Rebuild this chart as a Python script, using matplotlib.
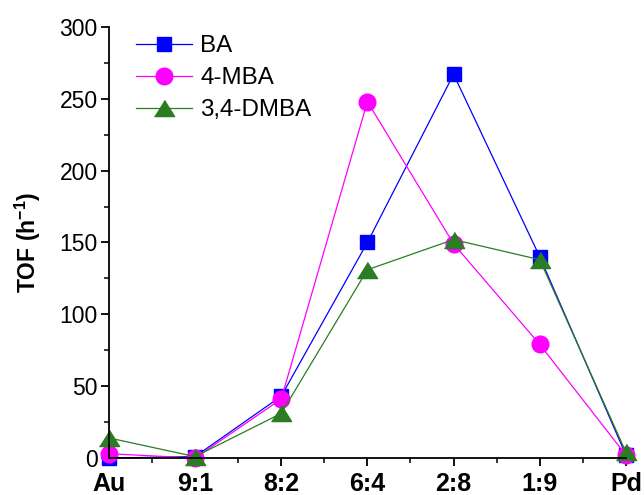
import numpy as np
import matplotlib
matplotlib.use("Agg")
import matplotlib.pyplot as plt
from matplotlib.ticker import MultipleLocator

plt.rcParams['font.family'] = ['Liberation Sans', 'DejaVu Sans']
plt.rcParams['mathtext.fontset'] = 'custom'
plt.rcParams['mathtext.rm'] = 'Liberation Sans'
plt.rcParams['mathtext.bf'] = 'Liberation Sans:bold'

# data
categories = ["Au", "9:1", "8:2", "6:4", "2:8", "1:9", "Pd"]
ba = [0, 1, 43, 150, 267, 140, 2]
mba = [3, 0, 41, 248, 149, 79, 2]
dmba = [14, 1, 31, 131, 152, 138, 4]

x = np.arange(len(categories))

# wide, flat triangle like the Origin one
tri = [(-1, -0.8), (1, -0.8), (0, 0.8)]

fig = plt.figure(figsize=(6.44, 4.95), dpi=100)
ax = fig.add_axes([0.169, 0.0747, 0.803, 0.871])

ax.plot(x, ba, '-s', color='#0000FF', lw=0.9, ms=10, label='BA', clip_on=False)
ax.plot(x, mba, '-o', color='#FF00FF', lw=0.9, ms=12, label='4-MBA', clip_on=False)
ax.plot(x, dmba, '-', marker=tri, color='#2A7D22', lw=0.9, ms=14.5, label='3,4-DMBA', clip_on=False)

ax.set_xlim(0, 6)
ax.set_ylim(0, 300)
ax.set_xticks(x)
ax.set_xticklabels(categories, fontsize=18, fontweight='bold')
ax.xaxis.set_minor_locator(MultipleLocator(0.5))
ax.yaxis.set_major_locator(MultipleLocator(50))
ax.yaxis.set_minor_locator(MultipleLocator(25))
ax.tick_params(axis='y', labelsize=16.5, pad=2)
ax.tick_params(axis='x', pad=4)
ax.tick_params(which='major', direction='out', length=6, width=1.3)
ax.tick_params(which='minor', direction='out', length=3.5, width=1.1)

ax.spines['top'].set_visible(False)
ax.spines['right'].set_visible(False)
ax.spines['left'].set_linewidth(1.3)
ax.spines['bottom'].set_linewidth(1.3)

ax.set_ylabel('TOF (h$^{\\mathbf{-1}}$)', fontsize=16.5, fontweight='bold', labelpad=12)

ax.legend(loc='upper left', bbox_to_anchor=(0.016, 1.026), frameon=False, fontsize=17.4,
          handlelength=2.3, handletextpad=0.35, labelspacing=0.42, borderpad=0.3)

fig.savefig("out.png", dpi=100)
